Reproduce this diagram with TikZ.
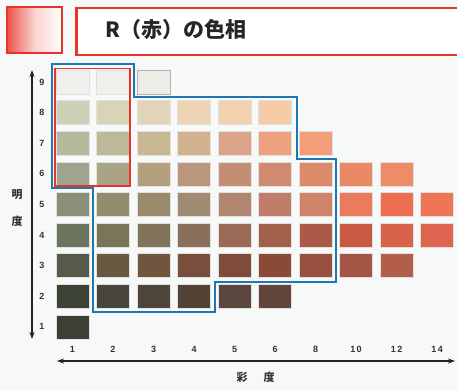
\documentclass[tikz,border=0pt]{standalone}
\usepackage{fontspec}
\setmainfont{Liberation Sans}
\newfontfamily\cjk{Noto Sans CJK JP}
\usetikzlibrary{arrows.meta}
\definecolor{bg}{HTML}{F7F9F8}
\definecolor{redline}{HTML}{E8342A}
\definecolor{blueline}{HTML}{1C78B4}
\definecolor{axis}{HTML}{222222}
\tikzset{
  chip/.style={minimum width=33pt, minimum height=24pt, inner sep=0pt, draw=black!12, line width=0.3pt},
  rowlab/.style={font=\bfseries\fontsize{9}{9}\selectfont, text=black!80},
  collab/.style={font=\bfseries\fontsize{9}{9}\selectfont, text=black!80},
  axlab/.style={font=\cjk\bfseries\fontsize{11}{11}\selectfont, text=black!80},
  axisline/.style={draw=axis, line width=1.1pt, {Stealth[length=7pt,width=5pt]}-{Stealth[length=7pt,width=5pt]}},
}
\begin{document}
\begin{tikzpicture}[x=1pt,y=-1pt]
\useasboundingbox (0,0) rectangle (457,391);
\fill[bg] (0,0) rectangle (457,391);
% title
\shade[left color=redline!85, right color=white, middle color=redline!22] (7,7) rectangle (62,53);
\draw[redline, line width=1.3pt] (7,7) rectangle (62,53);
\node[draw=redline, line width=2.8pt, fill=white, minimum width=390pt, minimum height=47pt, anchor=north west, inner sep=0pt] (titlebox) at (75,6.5) {};
\node[anchor=west, font=\cjk\bfseries\fontsize{21}{21}\selectfont, text=black!85, inner sep=0pt] (title) at (105,30) {R（赤）の色相};
% chips: column index / row / colour
\foreach \c/\r/\col in {
 1/9/F0F0EC, 2/9/F0EFEA, 3/9/EEECE6,
 1/8/CFD0B8, 2/8/D8D4B8, 3/8/E2D4B8, 4/8/ECD4B4, 5/8/F2D2AE, 6/8/F4CCA8,
 1/7/B6BA9C, 2/7/BDB898, 3/7/C8B894, 4/7/D2B28E, 5/7/DEA48A, 6/7/ECA27E, 7/7/F29E7A,
 1/6/9EA48E, 2/6/A9A486, 3/6/B4A07E, 4/6/BA967C, 5/6/C48E74, 6/6/D08A70, 7/6/DC8A6A, 8/6/EA8A64, 9/6/EE8C68,
 1/5/8A9078, 2/5/928C6C, 3/5/9A8A6C, 4/5/A08C72, 5/5/B08670, 6/5/C07E6A, 7/5/D08368, 8/5/EC7A5C, 9/5/EE6E52, 10/5/F07456,
 1/4/6B7560, 2/4/7A7458, 3/4/80735A, 4/4/8A705A, 5/4/9A6A56, 6/4/A0604A, 7/4/AA5A46, 8/4/C85A44, 9/4/D8634A, 10/4/E06550,
 1/3/575A48, 2/3/6A5840, 3/3/70563E, 4/3/784F3C, 5/3/7F4C3C, 6/3/8A4A38, 7/3/98503E, 8/3/A35644, 9/3/B25E4A,
 1/2/3C4234, 2/2/48453A, 3/2/4F4538, 4/2/524236, 5/2/5A463C, 6/2/62463E,
 1/1/3E3D36}{
  \definecolor{tmpc}{HTML}{\col}
  \node[chip, fill=tmpc] (s-\c-\r) at ({72.5+40.5*(\c-1)}, {82+30.6*(9-\r)}) {};
}
\draw[line width=0.6pt, draw=black!30] (s-3-9.north west) rectangle (s-3-9.south east);
% red outline
\draw[redline, line width=1.8pt] (55,68.5) rectangle (130,186);
% blue outline
\draw[blueline, line width=2pt, line join=miter]
  (52,64) -- (134,64) -- (134,96.5) -- (296.5,96.5) -- (296.5,158.5) -- (336,158.5)
  -- (336,281.5) -- (215,281.5) -- (215,312) -- (93,312) -- (93,188) -- (52,188) -- cycle;
% axes
\coordinate (vtop) at (32,70);
\coordinate (vbot) at (32,339);
\draw[axisline] (vbot) -- (vtop);
\coordinate (hl) at (57,361);
\coordinate (hr) at (455,361);
\draw[axisline] (hl) -- (hr);
% row labels
\foreach \r in {1,...,9}{
  \node[rowlab] (rl-\r) at (42, {82+30.6*(9-\r)}) {\r};
}
% column labels
\foreach \c/\t in {1/1,2/2,3/3,4/4,5/5,6/6,7/8,8/1\,0,9/1\,2,10/1\,4}{
  \node[collab] (cl-\c) at ({72.5+40.5*(\c-1)}, 349) {\t};
}
\node[axlab] (ml1) at (17,195) {明};
\node[axlab] (ml2) at (17,221) {度};
\node[axlab] (cs1) at (242,377) {彩};
\node[axlab] (cs2) at (269,377) {度};
\end{tikzpicture}
\end{document}
